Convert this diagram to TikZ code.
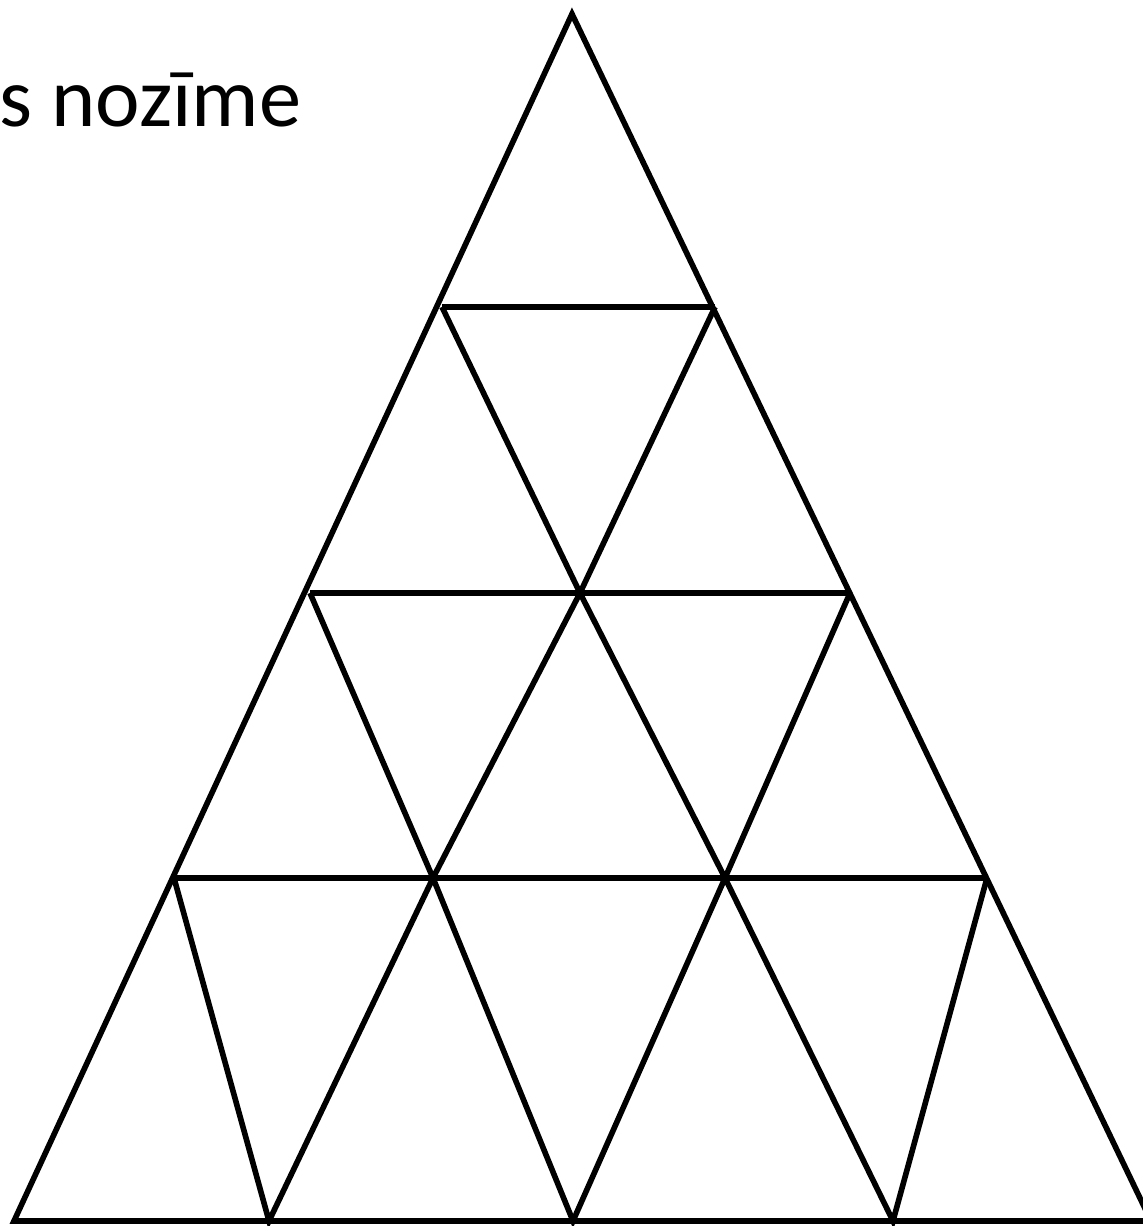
\documentclass[tikz,border=0pt]{standalone}
\usepackage{fontspec}
\setmainfont{Carlito}
\usetikzlibrary{calc}

\begin{document}
\begin{tikzpicture}[
        edge/.style={line width=1.6pt, line join=miter, black},
        title/.style={font=\fontsize{24}{29}\selectfont, inner sep=0pt, anchor=base east},
    ]
        % --- Frame of the picture ---
        \useasboundingbox (0,0) rectangle (11.43,12.26);
        \clip (0,0) rectangle (11.43,12.26);

        % --- Title (cut at the left edge) ---
        \node[title] (caption) at (3.02,10.99) {s nozīme};

        % --- Corners of the grid ---
        \coordinate (top) at (5.72,12.12);
        \coordinate (l1) at (4.42,9.19);
        \coordinate (r1) at (7.15,9.19);
        \coordinate (l2) at (3.10,6.33);
        \coordinate (m2) at (5.80,6.33);
        \coordinate (r2) at (8.50,6.33);
        \coordinate (l3) at (1.74,3.48);
        \coordinate (a3) at (4.33,3.48);
        \coordinate (b3) at (7.25,3.48);
        \coordinate (r3) at (9.87,3.48);
        \coordinate (b0) at (0.14,0.05);
        \coordinate (b1) at (2.69,0.05);
        \coordinate (b2) at (5.73,0.05);
        \coordinate (b3b) at (8.93,0.05);
        \coordinate (b4) at (11.51,0.05);

        % --- Outer triangle ---
        \draw[edge] (b0) -- (top) -- (b4) -- cycle;

        % --- Horizontal rows ---
        \draw[edge] (l1) -- (r1);
        \draw[edge] (l2) -- (r2);
        \draw[edge] (l3) -- (r3);

        % --- Row 2 ---
        \draw[edge] (l1) -- (m2) -- (r1);

        % --- Row 3 ---
        \draw[edge] (l2) -- (a3) -- (m2) -- (b3) -- (r2);

        % --- Bottom row ---
        \draw[edge] (l3) -- (b1) -- (a3) -- (b2) -- (b3) -- (b3b) -- (r3);
\end{tikzpicture}
\end{document}
